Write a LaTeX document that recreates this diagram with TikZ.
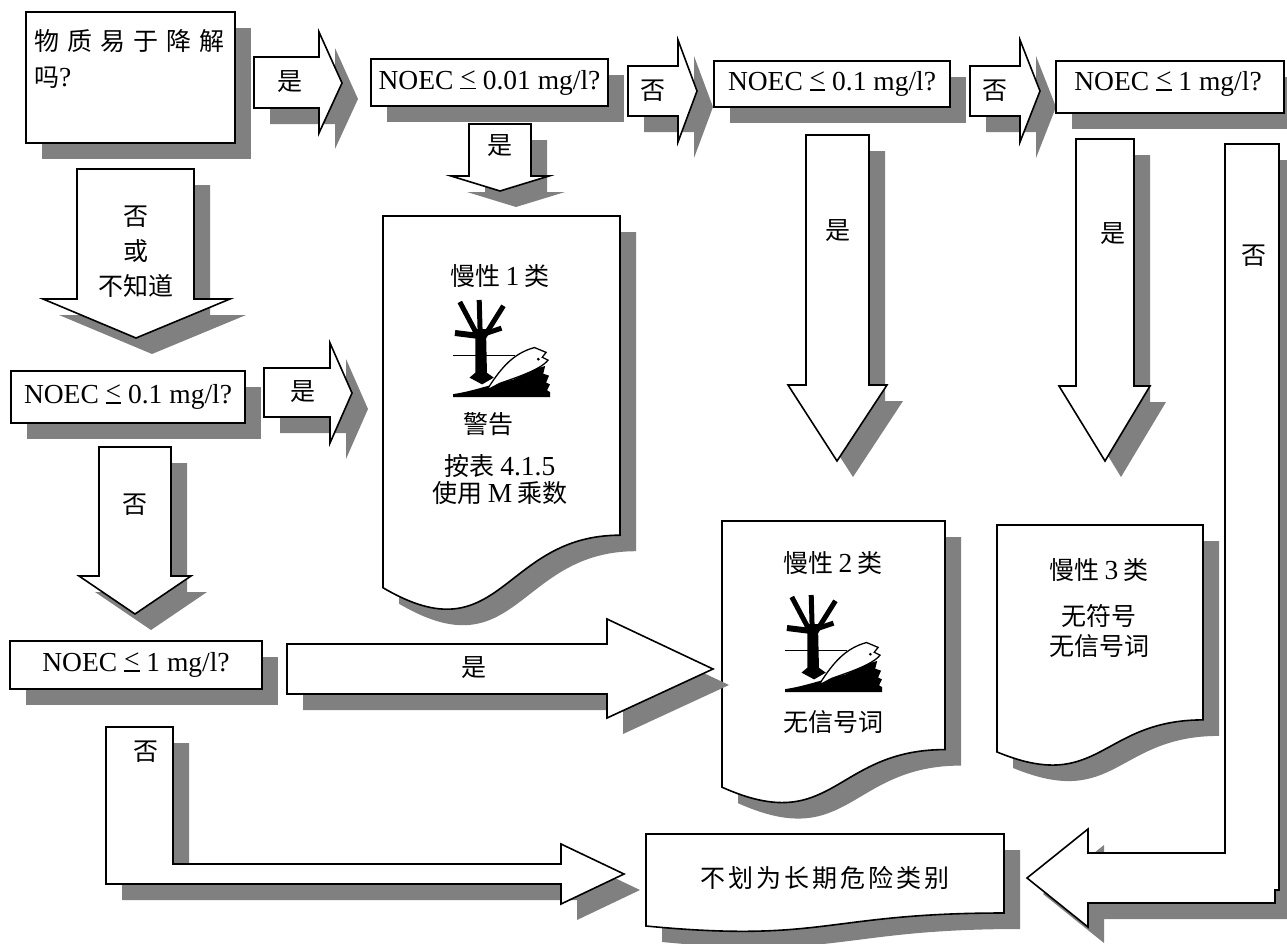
\documentclass[tikz,border=0pt]{standalone}
\usepackage{fontspec}
\setmainfont{Liberation Serif}
\newfontfamily\cjk{Noto Sans CJK SC}
\usetikzlibrary{shadows}
\newcommand\lat[1]{{\rmfamily\fontsize{27.5}{30}\selectfont #1}}
\newcommand\leqs{\rlap{\raisebox{0.1em}{<}}\rule[0em]{0.564em}{0.05em}}
\newcommand\docshape[5]{%
  \draw[blk] (#2,#3) -- ({#2+#4},#3) -- ({#2+#4},{#3+0.802*#5})
    .. controls ({#2+0.5*#4},{#3+0.802*#5}) and ({#2+0.5*#4},{#3+1.109*#5}) .. (#2,{#3+0.934*#5}) -- cycle;
  \coordinate (#1) at ({#2+0.5*#4},{#3+0.5*#5});}
\newcommand\hazard[2]{%
  \begin{scope}[shift={(#1,#2)},scale=0.97]
    \fill (0,100) -- (0,97) .. controls (15,95) and (30,90) .. (42,87) -- (62,82) -- (75,76) -- (88,70)
      -- (95,68) -- (93,76) -- (99,78) -- (96,85) -- (100,87) -- (97,93) -- (100,95) -- (100,100) -- cycle;
    \draw[line width=1.3pt] (0,57) -- (64,57);
    \fill (30,87) -- (17,80) -- (23,75) -- (23,30) -- (34,30) -- (35,75) -- (42,80) -- cycle;
    \draw[line width=5pt] (25,36) -- (7,2);
    \draw[line width=5pt] (28,34) -- (27,0);
    \draw[line width=5pt] (32,38) -- (52,6);
    \draw[line width=6pt] (2,34) -- (26,37);
    \draw[line width=5pt] (32,35) -- (50,29);
    \filldraw[fill=white,draw=black,line width=1.3pt] (38,88) .. controls (50,70) and (62,55) .. (84,49)
      -- (96,54) -- (92,59) -- (98,62) .. controls (90,72) and (65,80) .. (48,86) -- (35,93) -- cycle;
    \fill (88,61) circle (1.6);
  \end{scope}}
\begin{document}
\begin{tikzpicture}[x=1pt,y=-1pt,
  shad/.style={drop shadow={shadow xshift=16pt,shadow yshift=-16pt,fill=black!50,opacity=1}},
  blk/.style={draw=black,line width=1.6pt,fill=white,shad,line join=miter},
  box/.style={blk,rectangle,inner sep=0pt,outer sep=0pt,anchor=north west,font=\fontsize{27.5}{30}\selectfont},
  cn/.style={font=\cjk\fontsize{25}{30}\selectfont,inner sep=0pt,align=center},
  en/.style={font=\fontsize{27.5}{30}\selectfont,inner sep=0pt},
]
\useasboundingbox (0,0) rectangle (1287,943);

% start question
\node[box,minimum width=209,minimum height=131] (q0) at (26,12) {};
\node[cn,anchor=north west,align=left,font=\cjk\fontsize{25}{36}\selectfont] (q0t) at (34,29)
  {物\hspace{8pt}质\hspace{8pt}易\hspace{8pt}于\hspace{8pt}降\hspace{8pt}解\\吗\lat{?}};

% yes arrow to NOEC 0.01
\draw[blk] (254,57) -- (319,57) -- (319,32) -- (342,83) -- (319,133) -- (319,108) -- (254,108) -- cycle;
\node[cn] (l1) at (290,82) {是};

\node[box,minimum width=237,minimum height=47] (q1) at (371,59) {NOEC \leqs{} 0.01 mg/l?};

% no arrow
\draw[blk] (628,66) -- (678,66) -- (678,40) -- (697,91) -- (678,142) -- (678,116) -- (628,116) -- cycle;
\node[cn] (l2) at (653,91) {否};

\node[box,minimum width=236,minimum height=46] (q2) at (714,61) {NOEC \leqs{} 0.1 mg/l?};

% no arrow
\draw[blk] (970,66) -- (1020,66) -- (1020,40) -- (1040,91) -- (1020,142) -- (1020,116) -- (970,116) -- cycle;
\node[cn] (l3) at (995,91) {否};

\node[box,minimum width=228,minimum height=52] (q3) at (1056,61) {};
\node[en] (q3t) at (1168,84) {NOEC \leqs{} 1 mg/l?};

% yes arrow down to chronic 1
\draw[blk] (469,124) -- (531,124) -- (531,176) -- (549,176) -- (500,191) -- (451,176) -- (469,176) -- cycle;
\node[cn] (l4) at (500,146) {是};

% yes arrows down to chronic 2 and 3
\draw[blk] (806,135) -- (869,135) -- (869,385) -- (887,385) -- (837,461) -- (788,385) -- (806,385) -- cycle;
\node[cn] (l5) at (838,231) {是};
\draw[blk] (1076,139) -- (1134,139) -- (1134,386) -- (1150,386) -- (1105,461) -- (1059,386) -- (1076,386) -- cycle;
\node[cn] (l6) at (1113,234) {是};

% right bent arrow (no) to not classified
\draw[blk] (1225,144) -- (1279,144) -- (1279,890) -- (1275,890) -- (1275,903) -- (1088,903) -- (1088,927)
  -- (1027,878) -- (1088,829) -- (1088,853) -- (1225,853) -- cycle;
\node[cn] (l7) at (1254,256) {否};

% no or unknown
\draw[blk] (77,169) -- (194,169) -- (194,299) -- (230,299) -- (136,338) -- (43,299) -- (77,299) -- cycle;
\node[cn,font=\cjk\fontsize{25}{35}\selectfont] (l8) at (136,252) {否\\或\\不知道};

\node[box,minimum width=234,minimum height=52] (q4) at (11,371) {NOEC \leqs{} 0.1 mg/l?};

% yes arrow to chronic 1
\draw[blk] (264,368) -- (330,368) -- (330,343) -- (352,393) -- (330,443) -- (330,417) -- (264,417) -- cycle;
\node[cn] (l9) at (303,392) {是};

% chronic 1 document
\docshape{c1}{383}{216}{237}{398}
\node[cn] (c1a) at (500,276) {慢性 \lat{1} 类};
\hazard{453}{300}
\node[cn] (c1b) at (488,424) {警告};
\node[cn] (c1c) at (500,466) {按表 \lat{4.1.5}};
\node[cn] (c1d) at (500,493) {使用 \lat{M} 乘数};

% no arrow down
\draw[blk] (99,447) -- (171,447) -- (171,576) -- (191,576) -- (135,614) -- (79,576) -- (99,576) -- cycle;
\node[cn] (l10) at (135,505) {否};

\node[box,minimum width=252,minimum height=48] (q5) at (10,641) {NOEC \leqs{} 1 mg/l?};

% chronic 2 document
\docshape{c2}{722}{521}{223}{285}
\node[cn] (c2a) at (833,563) {慢性 \lat{2} 类};
\hazard{785}{595}
\node[cn] (c2b) at (833,722) {无信号词};

% big yes arrow to chronic 2
\draw[blk] (287,644) -- (607,644) -- (607,619) -- (713,669) -- (607,718) -- (607,694) -- (287,694) -- cycle;
\node[cn] (l11) at (474,668) {是};

% chronic 3 document
\docshape{c3}{997}{525}{206}{243}
\node[cn] (c3a) at (1099,570) {慢性 \lat{3} 类};
\node[cn] (c3b) at (1099,616) {无符号};
\node[cn] (c3c) at (1099,646) {无信号词};

% bottom-left bent arrow (no)
\draw[blk] (106,727) -- (173,727) -- (173,864) -- (561,864) -- (561,844) -- (624,874) -- (561,904)
  -- (561,884) -- (106,884) -- cycle;
\node[cn] (l12) at (146,752) {否};

% not classified
\docshape{nc}{646}{834}{358}{98.5}
\node[cn] (nct) at (825,878) {不\hspace{3pt}划\hspace{3pt}为\hspace{3pt}长\hspace{3pt}期\hspace{3pt}危\hspace{3pt}险\hspace{3pt}类\hspace{3pt}别};
\end{tikzpicture}
\end{document}
